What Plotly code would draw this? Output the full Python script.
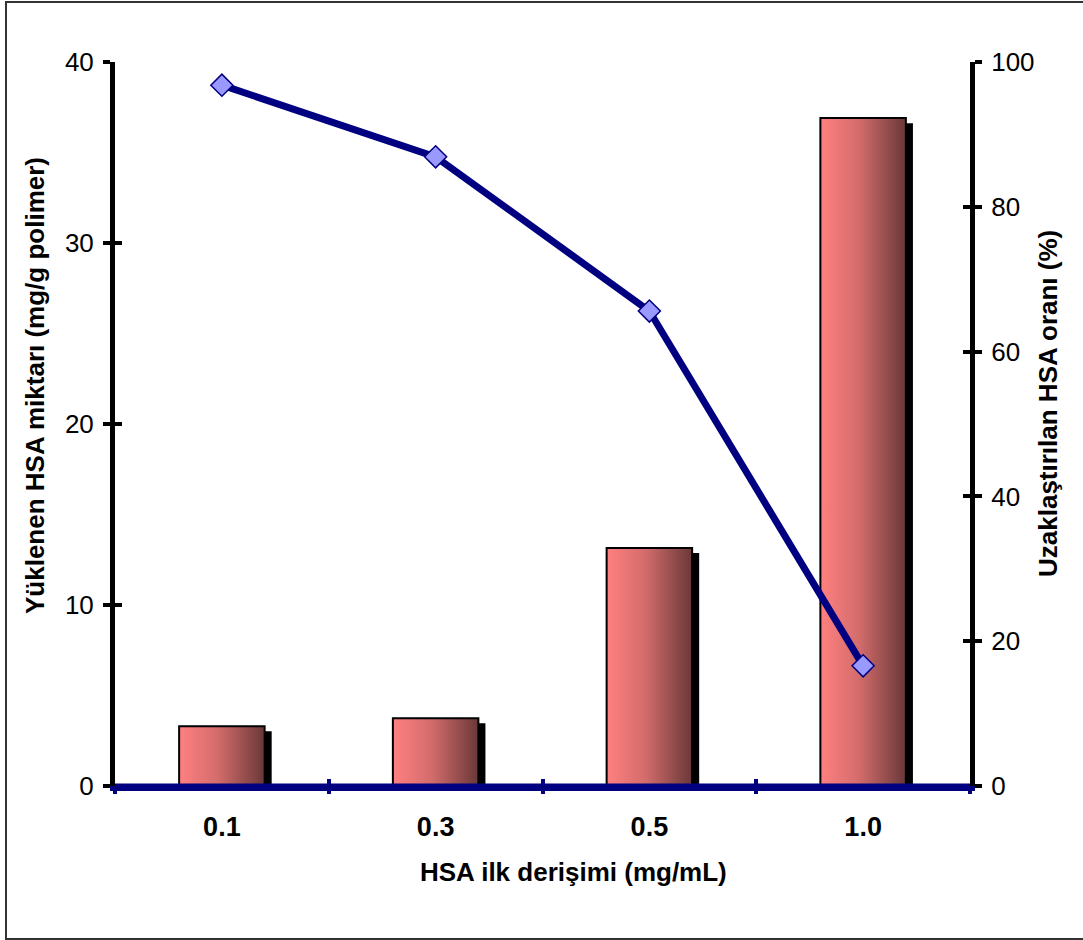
import plotly.graph_objects as go

# HSA initial concentration (mg/mL)
categories = ["0.1", "0.3", "0.5", "1.0"]
# Loaded HSA amount (mg/g polymer) - left axis
loaded_hsa = [3.3, 3.75, 13.15, 36.9]
# Removed HSA ratio (%) - right axis
removed_pct = [96.8, 86.9, 65.6, 16.6]

left_ticks = [0, 10, 20, 30, 40]
right_ticks = [0, 20, 40, 60, 80, 100]

W, H = 1083, 940
L, R, T, B = 115, 113, 62, 154
FONT = "Arial, Liberation Sans, sans-serif"
NAVY = "#000080"

bar_w = 0.40
shadow_dx = 0.033
shadow_dy = 0.28

pos = list(range(len(categories)))

fig = go.Figure()

# drop shadows behind the bars
fig.add_trace(go.Bar(
    x=[p + shadow_dx for p in pos],
    y=[max(v - shadow_dy, 0) for v in loaded_hsa],
    width=bar_w,
    marker=dict(color="black", line=dict(width=0)),
    showlegend=False, hoverinfo="skip",
))

# gradient-filled bars
for p, v in zip(pos, loaded_hsa):
    x0, x1 = p - bar_w / 2, p + bar_w / 2
    fig.add_trace(go.Scatter(
        x=[x0, x1, x1, x0, x0],
        y=[0, 0, v, v, 0],
        mode="lines",
        fill="toself",
        fillgradient=dict(
            type="horizontal",
            colorscale=[[0, "#FF8080"], [0.45, "#D46C6C"], [1, "#6A3838"]],
        ),
        line=dict(color="black", width=2),
        showlegend=False, hoverinfo="skip",
    ))

# empty traces so the tick-only overlay axes get drawn
for xa, ya in [("x2", "y"), ("x3", "y"), ("x", "y3"), ("x", "y4")]:
    fig.add_trace(go.Scatter(x=[None], y=[None], xaxis=xa, yaxis=ya,
                             mode="markers", showlegend=False, hoverinfo="skip"))

# removal ratio line on the secondary axis
fig.add_trace(go.Scatter(
    x=pos, y=removed_pct,
    yaxis="y2",
    mode="lines+markers",
    line=dict(color=NAVY, width=7),
    marker=dict(symbol="diamond", size=17, color="#9999FF",
                line=dict(color=NAVY, width=1.5)),
    showlegend=False,
))

tick_font = dict(family=FONT, size=26, color="black")
boundaries = [p - 0.5 for p in pos] + [pos[-1] + 0.5]

AX_LW = 5
TK_W = 4
TK_L = 7

fig.update_layout(
    width=W, height=H,
    margin=dict(l=L, r=R, t=T, b=B),
    paper_bgcolor="white", plot_bgcolor="white",
    showlegend=False,
    xaxis=dict(
        range=[-0.5, 3.5], tickvals=pos, ticktext=categories,
        ticks="", showgrid=False, zeroline=False,
        showline=True, linecolor=NAVY, linewidth=AX_LW,
        tickfont=dict(family=FONT, size=27, color="black", weight="bold"),
        ticklabelstandoff=13,
    ),
    xaxis2=dict(
        overlaying="x", anchor="y", range=[-0.5, 3.5],
        tickvals=boundaries, showticklabels=False,
        ticks="outside", ticklen=TK_L, tickwidth=TK_W, tickcolor=NAVY,
        showgrid=False, zeroline=False, showline=False,
    ),
    xaxis3=dict(
        overlaying="x", anchor="y", range=[-0.5, 3.5],
        tickvals=boundaries, showticklabels=False,
        ticks="inside", ticklen=TK_L, tickwidth=TK_W, tickcolor=NAVY,
        showgrid=False, zeroline=False, showline=False,
    ),
    yaxis=dict(
        range=[0, 40], tickvals=left_ticks,
        ticks="outside", ticklen=TK_L, tickwidth=TK_W, tickcolor="black",
        showline=True, linecolor="black", linewidth=AX_LW,
        showgrid=False, zeroline=False, tickfont=tick_font,
        ticklabelstandoff=4,
    ),
    yaxis2=dict(
        overlaying="y", side="right", anchor="x", range=[0, 100],
        tickvals=right_ticks,
        ticks="outside", ticklen=TK_L, tickwidth=TK_W, tickcolor="black",
        showline=True, linecolor="black", linewidth=AX_LW,
        showgrid=False, zeroline=False, tickfont=tick_font,
        ticklabelstandoff=4,
    ),
    yaxis3=dict(
        overlaying="y", side="left", anchor="x", range=[0, 40],
        tickvals=left_ticks, showticklabels=False,
        ticks="inside", ticklen=TK_L, tickwidth=TK_W, tickcolor="black",
        showline=False, showgrid=False, zeroline=False,
    ),
    yaxis4=dict(
        overlaying="y", side="right", anchor="x", range=[0, 100],
        tickvals=right_ticks, showticklabels=False,
        ticks="inside", ticklen=TK_L, tickwidth=TK_W, tickcolor="black",
        showline=False, showgrid=False, zeroline=False,
    ),
)

# redraw the navy baseline over the bars
fig.add_shape(type="line", xref="paper", yref="y", x0=0, x1=1, y0=0, y1=0,
              line=dict(color=NAVY, width=AX_LW), layer="above")

# axis titles
title_font = dict(family=FONT, size=26, color="black", weight="bold")
pw, ph = W - L - R, H - T - B
fig.add_annotation(text="HSA ilk derişimi (mg/mL)", xref="paper", yref="paper",
                   x=(573 - L) / pw, y=(H - B - 872) / ph,
                   showarrow=False, xanchor="center", yanchor="middle", font=title_font)
fig.add_annotation(text="Yüklenen HSA miktarı (mg/g polimer)", xref="paper", yref="paper",
                   x=(35 - L) / pw, y=(H - B - 386) / ph, textangle=-90,
                   showarrow=False, xanchor="center", yanchor="middle", font=title_font)
fig.add_annotation(text="Uzaklaştırılan HSA oranı (%)", xref="paper", yref="paper",
                   x=(1048 - L) / pw, y=(H - B - 404) / ph, textangle=-90,
                   showarrow=False, xanchor="center", yanchor="middle", font=title_font)

# outer frame
fig.add_shape(type="rect", xref="paper", yref="paper",
              x0=(6 - L) / pw, x1=(1085 - L) / pw,
              y0=(H - B - 939) / ph, y1=(H - B - 2) / ph,
              line=dict(color="#333333", width=2), fillcolor="rgba(0,0,0,0)")

fig.write_html("out.html")
